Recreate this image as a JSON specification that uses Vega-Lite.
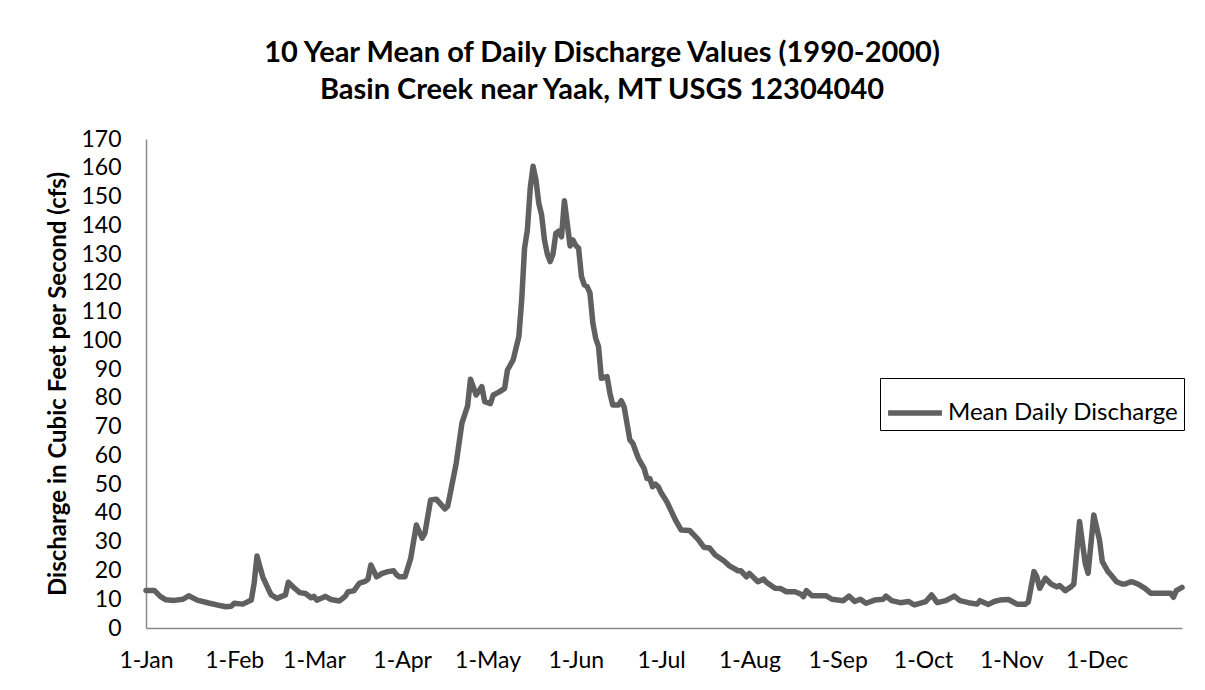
{
  "$schema": "https://vega.github.io/schema/vega-lite/v6.json",
  "width": 1036,
  "height": 489,
  "autosize": {"type": "none"},
  "padding": {"left": 146, "top": 139, "right": 23, "bottom": 62},
  "background": "white",
  "config": {"font": "Lato", "view": {"stroke": null}},
  "title": {
    "text": ["10 Year Mean of Daily Discharge Values (1990-2000)", "Basin Creek near Yaak, MT USGS 12304040"],
    "fontSize": 29,
    "fontWeight": "bold",
    "color": "black",
    "anchor": "middle",
    "frame": "group",
    "dx": -62,
    "offset": 23,
    "lineHeight": 37
  },
  "data": {
    "values": [
      {"date": "2001-01-01", "cfs": 13}, {"date": "2001-01-04", "cfs": 13}, {"date": "2001-01-06", "cfs": 11}, {"date": "2001-01-08", "cfs": 9.8},
      {"date": "2001-01-11", "cfs": 9.6}, {"date": "2001-01-14", "cfs": 10}, {"date": "2001-01-16", "cfs": 11.2}, {"date": "2001-01-19", "cfs": 9.7},
      {"date": "2001-01-23", "cfs": 8.7}, {"date": "2001-01-27", "cfs": 7.8}, {"date": "2001-01-29", "cfs": 7.4}, {"date": "2001-01-31", "cfs": 7.6},
      {"date": "2001-02-01", "cfs": 8.6}, {"date": "2001-02-04", "cfs": 8.3}, {"date": "2001-02-07", "cfs": 9.7}, {"date": "2001-02-08", "cfs": 15.6},
      {"date": "2001-02-09", "cfs": 25}, {"date": "2001-02-11", "cfs": 17.8}, {"date": "2001-02-13", "cfs": 13.5}, {"date": "2001-02-14", "cfs": 11.5},
      {"date": "2001-02-16", "cfs": 10.3}, {"date": "2001-02-19", "cfs": 11.5}, {"date": "2001-02-20", "cfs": 15.9}, {"date": "2001-02-22", "cfs": 14},
      {"date": "2001-02-24", "cfs": 12.3}, {"date": "2001-02-26", "cfs": 12}, {"date": "2001-02-28", "cfs": 10.5}, {"date": "2001-03-01", "cfs": 11},
      {"date": "2001-03-02", "cfs": 9.7}, {"date": "2001-03-04", "cfs": 10.5}, {"date": "2001-03-05", "cfs": 11}, {"date": "2001-03-07", "cfs": 9.9},
      {"date": "2001-03-10", "cfs": 9.4}, {"date": "2001-03-12", "cfs": 11}, {"date": "2001-03-13", "cfs": 12.6}, {"date": "2001-03-15", "cfs": 12.9},
      {"date": "2001-03-17", "cfs": 15.6}, {"date": "2001-03-19", "cfs": 16.2}, {"date": "2001-03-20", "cfs": 17}, {"date": "2001-03-21", "cfs": 21.9},
      {"date": "2001-03-23", "cfs": 17.8}, {"date": "2001-03-25", "cfs": 19}, {"date": "2001-03-27", "cfs": 19.6}, {"date": "2001-03-29", "cfs": 19.9},
      {"date": "2001-03-30", "cfs": 18.5}, {"date": "2001-03-31", "cfs": 17.8}, {"date": "2001-04-02", "cfs": 17.8}, {"date": "2001-04-04", "cfs": 24.2},
      {"date": "2001-04-06", "cfs": 35.8}, {"date": "2001-04-08", "cfs": 31.2}, {"date": "2001-04-09", "cfs": 33}, {"date": "2001-04-11", "cfs": 44.5},
      {"date": "2001-04-13", "cfs": 44.8}, {"date": "2001-04-16", "cfs": 41.4}, {"date": "2001-04-17", "cfs": 42.3}, {"date": "2001-04-20", "cfs": 57.3},
      {"date": "2001-04-22", "cfs": 71.2}, {"date": "2001-04-24", "cfs": 77.2}, {"date": "2001-04-25", "cfs": 86.5}, {"date": "2001-04-27", "cfs": 81},
      {"date": "2001-04-29", "cfs": 83.9}, {"date": "2001-04-30", "cfs": 78.7}, {"date": "2001-05-02", "cfs": 78}, {"date": "2001-05-03", "cfs": 81},
      {"date": "2001-05-05", "cfs": 82}, {"date": "2001-05-07", "cfs": 83.3}, {"date": "2001-05-08", "cfs": 89.7}, {"date": "2001-05-10", "cfs": 93.2},
      {"date": "2001-05-12", "cfs": 101.3}, {"date": "2001-05-13", "cfs": 114}, {"date": "2001-05-14", "cfs": 132}, {"date": "2001-05-15", "cfs": 138.4},
      {"date": "2001-05-16", "cfs": 152.9}, {"date": "2001-05-17", "cfs": 160.5}, {"date": "2001-05-18", "cfs": 155.8}, {"date": "2001-05-19", "cfs": 147.7},
      {"date": "2001-05-20", "cfs": 143.6}, {"date": "2001-05-21", "cfs": 134.9}, {"date": "2001-05-22", "cfs": 130}, {"date": "2001-05-23", "cfs": 127.4},
      {"date": "2001-05-24", "cfs": 130}, {"date": "2001-05-25", "cfs": 137.2}, {"date": "2001-05-26", "cfs": 138}, {"date": "2001-05-27", "cfs": 136},
      {"date": "2001-05-28", "cfs": 148.5}, {"date": "2001-05-29", "cfs": 140.7}, {"date": "2001-05-30", "cfs": 132.8}, {"date": "2001-05-31", "cfs": 134.9},
      {"date": "2001-06-01", "cfs": 133}, {"date": "2001-06-02", "cfs": 132}, {"date": "2001-06-03", "cfs": 122.2}, {"date": "2001-06-04", "cfs": 119.3},
      {"date": "2001-06-05", "cfs": 118.7}, {"date": "2001-06-06", "cfs": 116.4}, {"date": "2001-06-07", "cfs": 106}, {"date": "2001-06-08", "cfs": 100.7},
      {"date": "2001-06-09", "cfs": 97.8}, {"date": "2001-06-10", "cfs": 86.8}, {"date": "2001-06-12", "cfs": 87.4}, {"date": "2001-06-13", "cfs": 81.6},
      {"date": "2001-06-14", "cfs": 77.5}, {"date": "2001-06-16", "cfs": 77.5}, {"date": "2001-06-17", "cfs": 79}, {"date": "2001-06-18", "cfs": 76.8},
      {"date": "2001-06-20", "cfs": 65.4}, {"date": "2001-06-21", "cfs": 64.3}, {"date": "2001-06-23", "cfs": 59}, {"date": "2001-06-25", "cfs": 55.5},
      {"date": "2001-06-26", "cfs": 52}, {"date": "2001-06-27", "cfs": 52}, {"date": "2001-06-28", "cfs": 49.1}, {"date": "2001-06-29", "cfs": 50},
      {"date": "2001-06-30", "cfs": 49.1}, {"date": "2001-07-01", "cfs": 47}, {"date": "2001-07-03", "cfs": 43.9}, {"date": "2001-07-06", "cfs": 37.6},
      {"date": "2001-07-08", "cfs": 34.1}, {"date": "2001-07-11", "cfs": 33.9}, {"date": "2001-07-14", "cfs": 30.8}, {"date": "2001-07-16", "cfs": 28.1},
      {"date": "2001-07-18", "cfs": 27.8}, {"date": "2001-07-20", "cfs": 25.4}, {"date": "2001-07-23", "cfs": 23.4}, {"date": "2001-07-25", "cfs": 21.6},
      {"date": "2001-07-28", "cfs": 19.9}, {"date": "2001-07-29", "cfs": 19.9}, {"date": "2001-07-31", "cfs": 17.8}, {"date": "2001-08-01", "cfs": 19},
      {"date": "2001-08-04", "cfs": 16.1}, {"date": "2001-08-06", "cfs": 17}, {"date": "2001-08-07", "cfs": 15.9}, {"date": "2001-08-10", "cfs": 13.8},
      {"date": "2001-08-12", "cfs": 13.7}, {"date": "2001-08-14", "cfs": 12.6}, {"date": "2001-08-17", "cfs": 12.6}, {"date": "2001-08-19", "cfs": 11.8},
      {"date": "2001-08-20", "cfs": 10.9}, {"date": "2001-08-21", "cfs": 13}, {"date": "2001-08-23", "cfs": 11.2}, {"date": "2001-08-28", "cfs": 11.2},
      {"date": "2001-08-30", "cfs": 10}, {"date": "2001-09-03", "cfs": 9.5}, {"date": "2001-09-05", "cfs": 11.1}, {"date": "2001-09-07", "cfs": 9.2},
      {"date": "2001-09-09", "cfs": 10}, {"date": "2001-09-11", "cfs": 8.6}, {"date": "2001-09-14", "cfs": 9.7}, {"date": "2001-09-17", "cfs": 10},
      {"date": "2001-09-18", "cfs": 11.1}, {"date": "2001-09-20", "cfs": 9.5}, {"date": "2001-09-23", "cfs": 8.8}, {"date": "2001-09-26", "cfs": 9.2},
      {"date": "2001-09-28", "cfs": 8}, {"date": "2001-10-02", "cfs": 9.2}, {"date": "2001-10-04", "cfs": 11.5}, {"date": "2001-10-06", "cfs": 8.8},
      {"date": "2001-10-09", "cfs": 9.5}, {"date": "2001-10-12", "cfs": 11.1}, {"date": "2001-10-14", "cfs": 9.5}, {"date": "2001-10-17", "cfs": 8.8},
      {"date": "2001-10-20", "cfs": 8.3}, {"date": "2001-10-21", "cfs": 9.5}, {"date": "2001-10-24", "cfs": 8.2}, {"date": "2001-10-26", "cfs": 9.2},
      {"date": "2001-10-28", "cfs": 9.7}, {"date": "2001-10-31", "cfs": 9.9}, {"date": "2001-11-03", "cfs": 8.3}, {"date": "2001-11-06", "cfs": 8.3},
      {"date": "2001-11-07", "cfs": 9}, {"date": "2001-11-09", "cfs": 19.6}, {"date": "2001-11-10", "cfs": 17.8}, {"date": "2001-11-11", "cfs": 13.8},
      {"date": "2001-11-13", "cfs": 17.3}, {"date": "2001-11-15", "cfs": 15.3}, {"date": "2001-11-17", "cfs": 14.3}, {"date": "2001-11-18", "cfs": 14.8},
      {"date": "2001-11-20", "cfs": 13}, {"date": "2001-11-22", "cfs": 14.3}, {"date": "2001-11-23", "cfs": 15.3}, {"date": "2001-11-25", "cfs": 37},
      {"date": "2001-11-27", "cfs": 22.5}, {"date": "2001-11-28", "cfs": 19}, {"date": "2001-11-30", "cfs": 39.3}, {"date": "2001-12-02", "cfs": 30.6},
      {"date": "2001-12-03", "cfs": 23.1}, {"date": "2001-12-05", "cfs": 19.6}, {"date": "2001-12-06", "cfs": 18.5}, {"date": "2001-12-08", "cfs": 16.1},
      {"date": "2001-12-10", "cfs": 15.3}, {"date": "2001-12-11", "cfs": 15.3}, {"date": "2001-12-13", "cfs": 16.1}, {"date": "2001-12-14", "cfs": 15.9},
      {"date": "2001-12-16", "cfs": 15}, {"date": "2001-12-18", "cfs": 13.8}, {"date": "2001-12-20", "cfs": 12.1}, {"date": "2001-12-23", "cfs": 12.1},
      {"date": "2001-12-27", "cfs": 12.1}, {"date": "2001-12-28", "cfs": 10.7}, {"date": "2001-12-29", "cfs": 13}, {"date": "2001-12-31", "cfs": 14.1}
    ]
  },
  "mark": {"type": "line", "strokeWidth": 5.5, "strokeJoin": "round", "strokeCap": "round"},
  "encoding": {
    "x": {
      "field": "date",
      "type": "temporal",
      "scale": {
        "type": "utc",
        "domain": [
          {"year": 2001, "month": 1, "date": 1, "utc": true},
          {"year": 2001, "month": 12, "date": 31, "utc": true}
        ]
      },
      "axis": {
        "title": null,
        "values": [
          {"year": 2001, "month": 1, "date": 1, "utc": true},
          {"year": 2001, "month": 2, "date": 1, "utc": true},
          {"year": 2001, "month": 3, "date": 1, "utc": true},
          {"year": 2001, "month": 4, "date": 1, "utc": true},
          {"year": 2001, "month": 5, "date": 1, "utc": true},
          {"year": 2001, "month": 6, "date": 1, "utc": true},
          {"year": 2001, "month": 7, "date": 1, "utc": true},
          {"year": 2001, "month": 8, "date": 1, "utc": true},
          {"year": 2001, "month": 9, "date": 1, "utc": true},
          {"year": 2001, "month": 10, "date": 1, "utc": true},
          {"year": 2001, "month": 11, "date": 1, "utc": true},
          {"year": 2001, "month": 12, "date": 1, "utc": true}
        ],
        "labelExpr": "'1-' + utcFormat(datum.value, '%b')",
        "grid": false,
        "ticks": false,
        "tickSize": 0,
        "domainColor": "#898989",
        "domainWidth": 1.5,
        "labelFontSize": 23,
        "labelColor": "black",
        "labelPadding": 21,
        "labelFlush": false,
        "labelOverlap": false
      }
    },
    "y": {
      "field": "cfs",
      "type": "quantitative",
      "scale": {"domain": [0, 170], "nice": false, "zero": true},
      "axis": {
        "title": "Discharge in Cubic Feet per Second (cfs)",
        "titleFontSize": 24,
        "titleFontWeight": "bold",
        "titleColor": "black",
        "titlePadding": 10,
        "values": [0, 10, 20, 30, 40, 50, 60, 70, 80, 90, 100, 110, 120, 130, 140, 150, 160, 170],
        "grid": false,
        "ticks": false,
        "tickSize": 0,
        "domainColor": "#898989",
        "domainWidth": 1.5,
        "labelFontSize": 23,
        "labelColor": "black",
        "labelPadding": 25,
        "labelOverlap": false,
        "labelFlush": false
      }
    },
    "color": {
      "datum": "Mean Daily Discharge",
      "type": "nominal",
      "scale": {"range": ["#606060"]},
      "legend": {
        "title": null,
        "orient": "none",
        "legendX": 734,
        "legendY": 239,
        "symbolType": "stroke",
        "symbolSize": 2900,
        "symbolStrokeWidth": 5.5,
        "labelFontSize": 24,
        "labelLimit": 500,
        "labelColor": "black",
        "labelOffset": 3,
        "strokeColor": "black",
        "fillColor": "white",
        "padding": 5
      }
    }
  }
}
